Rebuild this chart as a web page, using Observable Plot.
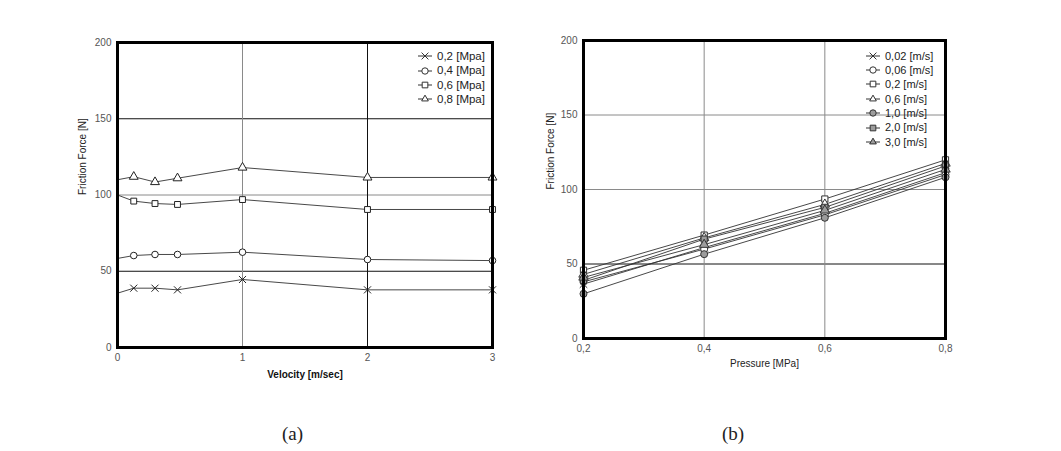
<!DOCTYPE html>
<html><head><meta charset="utf-8">
<script src="https://cdn.jsdelivr.net/npm/d3@7"></script>
<script src="https://cdn.jsdelivr.net/npm/@observablehq/plot@0.6"></script>
<style>
body{margin:0;background:#fff;}
#wrap{position:relative;width:1061px;height:451px;overflow:hidden;background:#fff;font-family:"Liberation Sans",Arial,sans-serif;}
.chart{position:absolute;top:0;}
.legend{position:absolute;color:#222;line-height:14.4px;}
.legend .row{display:flex;align-items:center;height:14.4px;white-space:nowrap;}
.legend svg{margin-right:4px;}
.cap{position:absolute;font-family:"Liberation Serif","DejaVu Serif",serif;font-size:19px;color:#222;}
</style></head><body><div id="wrap"></div>
<script>
// ---- Chart (a): Friction force vs velocity ----
const velocityX = [0, 0.13, 0.3, 0.48, 1, 2, 3];
const seriesA = ["0,2 [Mpa]", "0,4 [Mpa]", "0,6 [Mpa]", "0,8 [Mpa]"];
const forceA_02 = [35.6, 38.9, 38.9, 37.8, 44.6, 37.8, 37.8];
const forceA_04 = [58.4, 60.3, 61.0, 61.0, 62.5, 57.7, 57.0];
const forceA_06 = [100, 96.0, 94.4, 93.8, 97.0, 90.5, 90.5];
const forceA_08 = [110, 112.0, 108.5, 111.0, 118.0, 111.5, 111.5];
const symbolsA = ["times", "circle", "square", "triangle"];
const fillsA = ["white", "white", "white", "white"];
const xTicksA = [0, 1, 2, 3];
const xTickLabelsA = ["0", "1", "2", "3"];

// ---- Chart (b): Friction force vs pressure ----
const pressureX = [0.2, 0.4, 0.6, 0.8];
const seriesB = ["0,02 [m/s]", "0,06 [m/s]", "0,2 [m/s]", "0,6 [m/s]", "1,0 [m/s]", "2,0 [m/s]", "3,0 [m/s]"];
const forceB_002 = [36.5, 61.0, 84.0, 111.3];
const forceB_006 = [38.0, 60.0, 83.0, 110.0];
const forceB_02 = [45.8, 69.4, 93.6, 119.9];
const forceB_06 = [43.0, 67.5, 90.0, 117.5];
const forceB_10 = [30.0, 56.6, 81.0, 108.2];
const forceB_20 = [39.0, 66.7, 88.0, 115.8];
const forceB_30 = [41.0, 63.0, 86.0, 113.5];
const symbolsB = ["times", "circle", "square", "triangle", "circle", "square", "triangle"];
const fillsB = ["white", "white", "white", "white", "#9c9c9c", "#9c9c9c", "#9c9c9c"];
const xTicksB = [0.2, 0.4, 0.6, 0.8];
const xTickLabelsB = ["0,2", "0,4", "0,6", "0,8"];

const yTicks = [0, 50, 100, 150, 200];

const rowsA = [];
[forceA_02, forceA_04, forceA_06, forceA_08].forEach((arr, i) =>
  arr.forEach((v, j) => rowsA.push({series: seriesA[i], x: velocityX[j], y: v, fill: fillsA[i]})));
const rowsB = [];
[forceB_002, forceB_006, forceB_02, forceB_06, forceB_10, forceB_20, forceB_30].forEach((arr, i) =>
  arr.forEach((v, j) => rowsB.push({series: seriesB[i], x: pressureX[j], y: v, fill: fillsB[i]})));

const font = {fontFamily: "'Liberation Sans', Arial, sans-serif", fontSize: "10px", background: "white", overflow: "visible"};

const plotA = Plot.plot({
  width: 530, height: 400,
  marginLeft: 117, marginRight: 38, marginTop: 42, marginBottom: 53,
  style: font,
  x: {domain: [0, 3]},
  y: {domain: [0, 200]},
  symbol: {domain: seriesA, range: symbolsA},
  color: {type: "identity"},
  marks: [
    Plot.ruleY([100], {stroke: "#8a8a8a", strokeWidth: 1}),
    Plot.ruleY([50, 150], {stroke: "#111", strokeWidth: 1}),
    Plot.ruleX([1], {stroke: "#8a8a8a", strokeWidth: 1}),
    Plot.ruleX([2], {stroke: "#111", strokeWidth: 1}),
    Plot.line(rowsA, {x: "x", y: "y", z: "series", stroke: "#333", strokeWidth: 0.9}),
    Plot.dot(rowsA.filter(d => d.x > 0), {x: "x", y: "y", symbol: "series", fill: "fill", stroke: "#222", strokeWidth: 1, r: 3.3}),
    Plot.frame({stroke: "#000", strokeWidth: 3}),
    Plot.axisY({ticks: yTicks, tickSize: 0, tickPadding: 6, fill: "#555", label: null}),
    Plot.axisX({ticks: xTicksA, tickSize: 0, tickPadding: 6, fill: "#555", label: null, tickFormat: d => xTickLabelsA[xTicksA.indexOf(d)]}),
    Plot.text(["Friction Force [N]"], {frameAnchor: "left", rotate: -90, dx: -35, text: d => d, fill: "#222", fontSize: 10}),
    Plot.text(["Velocity [m/sec]"], {frameAnchor: "bottom", dy: 30, text: d => d, fill: "#111", fontSize: 10, fontWeight: "bold"})
  ]
});

const plotB = Plot.plot({
  width: 531, height: 400,
  marginLeft: 53, marginRight: 116, marginTop: 40, marginBottom: 62,
  style: font,
  x: {domain: [0.2, 0.8]},
  y: {domain: [0, 200]},
  symbol: {domain: seriesB, range: symbolsB},
  color: {type: "identity"},
  marks: [
    Plot.ruleY([100, 150], {stroke: "#8a8a8a", strokeWidth: 1}),
    Plot.ruleY([50], {stroke: "#111", strokeWidth: 1}),
    Plot.ruleX([0.4, 0.6], {stroke: "#8a8a8a", strokeWidth: 1}),
    Plot.line(rowsB, {x: "x", y: "y", z: "series", stroke: "#333", strokeWidth: 0.9}),
    Plot.dot(rowsB, {x: "x", y: "y", symbol: "series", fill: "fill", stroke: "#333", strokeWidth: 1, r: 3.5}),
    Plot.frame({stroke: "#000", strokeWidth: 3}),
    Plot.axisY({ticks: yTicks, tickSize: 0, tickPadding: 6, fill: "#555", label: null}),
    Plot.axisX({ticks: xTicksB, tickSize: 0, tickPadding: 6, fill: "#555", label: null, tickFormat: d => xTickLabelsB[xTicksB.indexOf(d)]}),
    Plot.text(["Friction Force [N]"], {frameAnchor: "left", rotate: -90, dx: -33, text: d => d, fill: "#222", fontSize: 10}),
    Plot.text(["Pressure [MPa]"], {frameAnchor: "bottom", dy: 28, text: d => d, fill: "#222", fontSize: 10})
  ]
});

const wrap = document.getElementById("wrap");
plotA.classList.add("chart"); plotA.style.left = "0px";
plotB.classList.add("chart"); plotB.style.left = "530px";
wrap.appendChild(plotA); wrap.appendChild(plotB);

const d3Sym = {times: d3.symbolTimes, circle: d3.symbolCircle, square: d3.symbolSquare, triangle: d3.symbolTriangle2};
function legend(series, symbols, fills, left, top, fontSize) {
  const div = document.createElement("div");
  div.className = "legend";
  div.style.left = left + "px"; div.style.top = top + "px"; div.style.fontSize = fontSize + "px";
  series.forEach((s, i) => {
    const row = document.createElement("div"); row.className = "row";
    const svg = d3.create("svg").attr("width", 16).attr("height", 10);
    svg.append("line").attr("x1", 1).attr("x2", 15).attr("y1", 5).attr("y2", 5).attr("stroke", "#333");
    svg.append("path").attr("d", d3.symbol(d3Sym[symbols[i]], 32)()).attr("transform", "translate(8,5)")
      .attr("fill", symbols[i] === "times" ? "none" : fills[i]).attr("stroke", "#333");
    row.appendChild(svg.node());
    const span = document.createElement("span"); span.textContent = s;
    row.appendChild(span);
    div.appendChild(row);
  });
  wrap.appendChild(div);
}
legend(seriesA, symbolsA, fillsA, 417, 49, 11.5);
legend(seriesB, symbolsB, fillsB, 865, 48.5, 11);

const capA = document.createElement("div"); capA.className = "cap"; capA.textContent = "(a)";
capA.style.left = "282px"; capA.style.top = "423px"; wrap.appendChild(capA);
const capB = document.createElement("div"); capB.className = "cap"; capB.textContent = "(b)";
capB.style.left = "722px"; capB.style.top = "423px"; wrap.appendChild(capB);
</script></body></html>
